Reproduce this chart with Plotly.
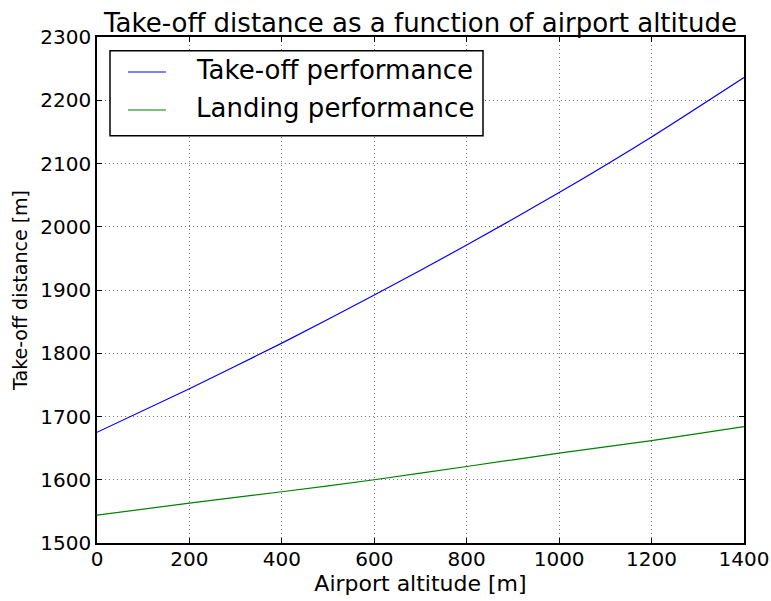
import plotly.graph_objects as go

# Airport altitude [m]
altitude = [0, 200, 400, 600, 800, 1000, 1200, 1400]
# Required distances [m]
takeoff_distance = [1675, 1744, 1816, 1892, 1971, 2054, 2142, 2236]
landing_distance = [1544, 1563, 1581, 1600, 1621, 1642, 1662, 1684]

x_ticks = [0, 200, 400, 600, 800, 1000, 1200, 1400]
y_ticks = [1500, 1600, 1700, 1800, 1900, 2000, 2100, 2200, 2300]

series_names = ["Take-off performance", "Landing performance"]
series_colors = ["#0000ff", "#008000"]

FONT = "DejaVu Sans"

fig = go.Figure()
for name, color, values in zip(series_names, series_colors,
                               [takeoff_distance, landing_distance]):
    fig.add_trace(go.Scatter(
        x=altitude, y=values, mode="lines", name=name,
        line=dict(color=color, width=1.2, shape="spline", smoothing=0.6),
        showlegend=False,
    ))

axis_common = dict(
    showline=True, linecolor="black", linewidth=1.5, mirror="ticks",
    ticks="inside", ticklen=5, tickwidth=1, tickcolor="black",
    showgrid=True, gridcolor="#777777", gridwidth=1, griddash="1px,3px",
    zeroline=False, automargin=False,
    tickfont=dict(family=FONT, size=20, color="black"),
)

fig.update_xaxes(
    range=[0, 1400], tickvals=x_ticks, ticklabelstandoff=-3,
    title=dict(text="Airport altitude [m]", font=dict(family=FONT, size=22, color="black"), standoff=6),
    **axis_common,
)
fig.update_yaxes(
    range=[1500, 2300], tickvals=y_ticks,
    title=dict(text="Take-off distance [m]", font=dict(family=FONT, size=19, color="black"), standoff=8),
    **axis_common,
)

# Framed legend in the upper-left corner of the axes
shapes = [dict(
    type="rect", xref="paper", yref="paper",
    x0=0.0201, x1=0.5966, y0=0.805, y1=0.9729,
    line=dict(color="black", width=1.5), fillcolor="white", layer="above",
)]
annotations = []
entry_y = [0.9308, 0.8557]
for name, color, yy in zip(series_names, series_colors, entry_y):
    shapes.append(dict(
        type="line", xref="paper", yref="paper",
        x0=0.0479, x1=0.1066, y0=yy, y1=yy,
        line=dict(color=color, width=1.2), layer="above",
    ))
    annotations.append(dict(
        text=name, xref="paper", yref="paper", x=0.1499, y=yy + 0.004,
        xanchor="left", yanchor="middle", showarrow=False,
        font=dict(family=FONT, size=26, color="black"),
    ))

fig.update_layout(
    width=771, height=601,
    margin=dict(l=97, r=27, t=37, b=58),
    paper_bgcolor="white", plot_bgcolor="white",
    font=dict(family=FONT, color="black"),
    title=dict(
        text="Take-off distance as a function of airport altitude",
        font=dict(family=FONT, size=26, color="black"),
        x=0.5, xref="paper", xanchor="center",
        y=1, yref="paper", yanchor="bottom", pad=dict(b=5),
    ),
    shapes=shapes, annotations=annotations,
    showlegend=False,
)

fig.write_html("out.html")
